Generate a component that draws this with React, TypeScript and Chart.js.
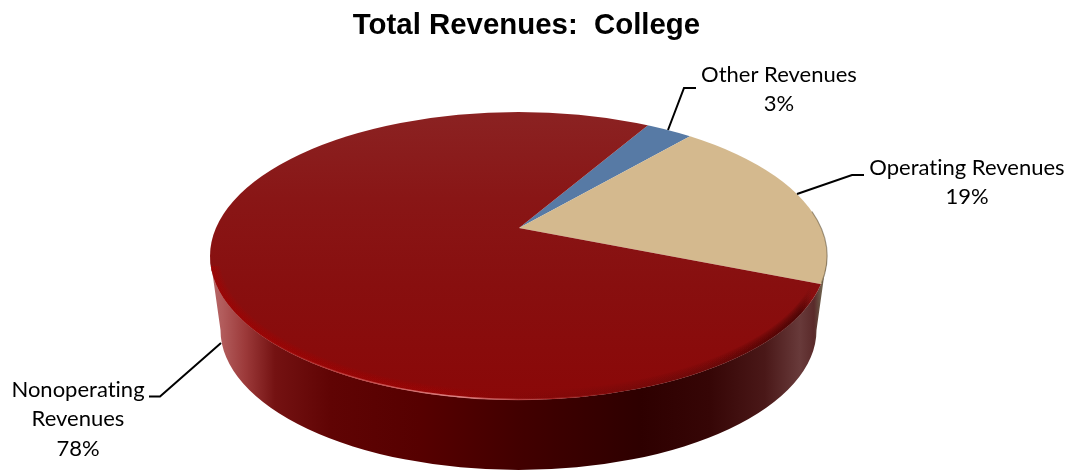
import React, { useEffect, useRef } from "react";
import { Chart, registerables } from "chart.js";

Chart.register(...registerables);

const titleText = "Total Revenues:  College";
const categories = ["Other Revenues", "Operating Revenues", "Nonoperating Revenues"];
const shares = [3, 19, 78];
const sliceColors = ["#577aa5", "#d4b98e", "#880e0e"];

// Look of the tilted disc on the page
const FACE = { cx: 518.5, cy: 256, rx: 308.5, ry: 144 };
const FOOT = { cx: 518.5, cy: 330, rx: 298, ry: 140 };
const APEX = { x: 519, y: 228 };
const TILT = 0.49;
const REACH = 460;

const LABEL_FONT = '22px Lato, "Open Sans", sans-serif';
const labelLayout = [
  { x: 779, y: 75, lines: ["Other Revenues"], leader: [[668, 130], [684, 88], [696, 88]] },
  { x: 967, y: 168, lines: ["Operating Revenues"], leader: [[797, 194], [852, 175], [864, 175]] },
  { x: 78, y: 390, lines: ["Nonoperating", "Revenues"], leader: [[221, 343], [160, 396.5], [149, 396.5]] },
];

function facePath(ctx: CanvasRenderingContext2D) {
  ctx.beginPath();
  ctx.ellipse(FACE.cx, FACE.cy, FACE.rx, FACE.ry, 0, 0, Math.PI * 2);
}

function drawSide(ctx: CanvasRenderingContext2D) {
  const g = ctx.createLinearGradient(FACE.cx - FACE.rx, 0, FACE.cx + FACE.rx, 0);
  const stops: [number, string][] = [
    [210, "#b56a6a"], [222, "#b25c5c"], [245, "#9c3a3a"], [275, "#741212"], [330, "#600404"],
    [420, "#560000"], [520, "#420000"], [640, "#2e0000"], [710, "#360606"], [765, "#4a1818"],
    [800, "#683a3a"], [814, "#5a2a2a"], [821, "#6a5a48"], [827, "#8c7c62"],
  ];
  stops.forEach(([x, c]) => g.addColorStop((x - 210) / 617, c));
  ctx.save();
  ctx.fillStyle = g;
  ctx.beginPath();
  ctx.ellipse(FACE.cx, FACE.cy, FACE.rx, FACE.ry, 0, Math.PI, 0, true);
  ctx.ellipse(FOOT.cx, FOOT.cy, FOOT.rx, FOOT.ry, 0, 0, Math.PI);
  ctx.closePath();
  ctx.fill();
  ctx.restore();
}

function drawBevel(ctx: CanvasRenderingContext2D) {
  ctx.save();
  facePath(ctx);
  ctx.clip();
  ctx.beginPath();
  ctx.rect(0, FACE.cy + 10, 1071, 300);
  ctx.clip();
  const glow = ctx.createLinearGradient(210, 0, 827, 0);
  glow.addColorStop(0, "rgba(165,0,0,0.10)");
  glow.addColorStop(0.35, "rgba(165,0,0,0.09)");
  glow.addColorStop(0.55, "rgba(120,0,0,0.05)");
  glow.addColorStop(0.8, "rgba(70,0,0,0.06)");
  glow.addColorStop(0.955, "rgba(50,0,0,0.12)");
  glow.addColorStop(0.975, "rgba(50,0,0,0)");
  ctx.strokeStyle = glow;
  for (let w = 2; w <= 18; w += 2) {
    ctx.lineWidth = w;
    facePath(ctx);
    ctx.stroke();
  }
  ctx.restore();

  const shine = ctx.createLinearGradient(260, 0, 620, 0);
  shine.addColorStop(0, "rgba(230,120,120,0)");
  shine.addColorStop(0.25, "rgba(235,130,130,0.45)");
  shine.addColorStop(0.55, "rgba(245,170,170,0.75)");
  shine.addColorStop(0.8, "rgba(220,90,90,0.35)");
  shine.addColorStop(1, "rgba(200,60,60,0)");
  ctx.save();
  ctx.strokeStyle = shine;
  ctx.lineWidth = 1.4;
  ctx.beginPath();
  ctx.ellipse(FACE.cx, FACE.cy, FACE.rx - 0.5, FACE.ry - 0.5, 0, Math.PI * 0.35, Math.PI * 0.9);
  ctx.stroke();
  ctx.restore();

  // thin dark rim on the tan slice's outer edge
  ctx.save();
  ctx.strokeStyle = "rgba(90,75,50,0.55)";
  ctx.lineWidth = 1.2;
  ctx.beginPath();
  ctx.ellipse(FACE.cx, FACE.cy, FACE.rx, FACE.ry, 0, -Math.PI * 0.1, Math.PI * 0.06);
  ctx.stroke();
  ctx.restore();
}

function drawLabels(ctx: CanvasRenderingContext2D) {
  ctx.save();
  ctx.fillStyle = "#000";
  ctx.font = LABEL_FONT;
  (ctx as any).fontVariantLigatures = "none";
  (ctx as any).textRendering = "optimizeSpeed";
  ctx.textAlign = "center";
  ctx.textBaseline = "middle";
  labelLayout.forEach((item, i) => {
    const lines = [...item.lines, `${shares[i]}%`];
    lines.forEach((t, j) => ctx.fillText(t, item.x, item.y + j * 29.3));
    ctx.strokeStyle = "#000";
    ctx.lineWidth = 2;
    ctx.beginPath();
    item.leader.forEach(([x, y], j) => (j ? ctx.lineTo(x, y) : ctx.moveTo(x, y)));
    ctx.stroke();
  });
  ctx.restore();
}

const discPlugin = {
  id: "disc",
  beforeDatasetsDraw(chart: any) {
    const { ctx } = chart;
    drawSide(ctx);
    const arc = chart.getDatasetMeta(0).data[0];
    const s = REACH / arc.outerRadius;
    ctx.save();
    facePath(ctx);
    ctx.clip();
    ctx.translate(APEX.x, APEX.y);
    ctx.scale(s, s * TILT);
    ctx.translate(-arc.x, -arc.y);
  },
  afterDatasetsDraw(chart: any) {
    const { ctx } = chart;
    ctx.restore();
    drawBevel(ctx);
    drawLabels(ctx);
  },
};

function sliceFill(c: any) {
  const { chart, dataIndex } = c;
  if (dataIndex !== 2 || !chart.chartArea) return sliceColors[dataIndex];
  const { left, right, top, bottom } = chart.chartArea;
  const radius = Math.min(right - left, bottom - top) / 2;
  const s = REACH / radius;
  const cy = (top + bottom) / 2;
  const toChart = (y: number) => cy + (y - APEX.y) / (s * TILT);
  const g = chart.ctx.createLinearGradient(0, toChart(112), 0, toChart(400));
  g.addColorStop(0, "#8b2222");
  g.addColorStop(0.3, "#891616");
  g.addColorStop(0.6, "#880f0f");
  g.addColorStop(1, "#8a0808");
  return g;
}

export default function App() {
  const ref = useRef<HTMLCanvasElement>(null);
  useEffect(() => {
    document.body.style.margin = "0";
    const chart = new Chart(ref.current!, {
      type: "pie",
      data: {
        labels: categories,
        datasets: [{ data: shares, backgroundColor: sliceFill, borderWidth: 0, hoverOffset: 0 }],
      },
      options: {
        responsive: false,
        animation: false,
        devicePixelRatio: 1,
        rotation: 31.6,
        layout: { padding: { right: 18 } },
        plugins: {
          legend: { display: false },
          tooltip: { enabled: false },
          title: {
            display: true,
            text: titleText,
            color: "#000",
            font: { family: '"Liberation Sans", Arial, sans-serif', size: 29.4, weight: "bold" },
            padding: { top: 8, bottom: 10 },
          },
        },
      },
      plugins: [discPlugin],
    } as any);
    return () => chart.destroy();
  }, []);
  return (
    <div style={{ position: "absolute", left: 0, top: 0, width: 1071, height: 471, background: "#fff" }}>
      <canvas ref={ref} width={1071} height={471} style={{ display: "block" }} />
    </div>
  );
}
